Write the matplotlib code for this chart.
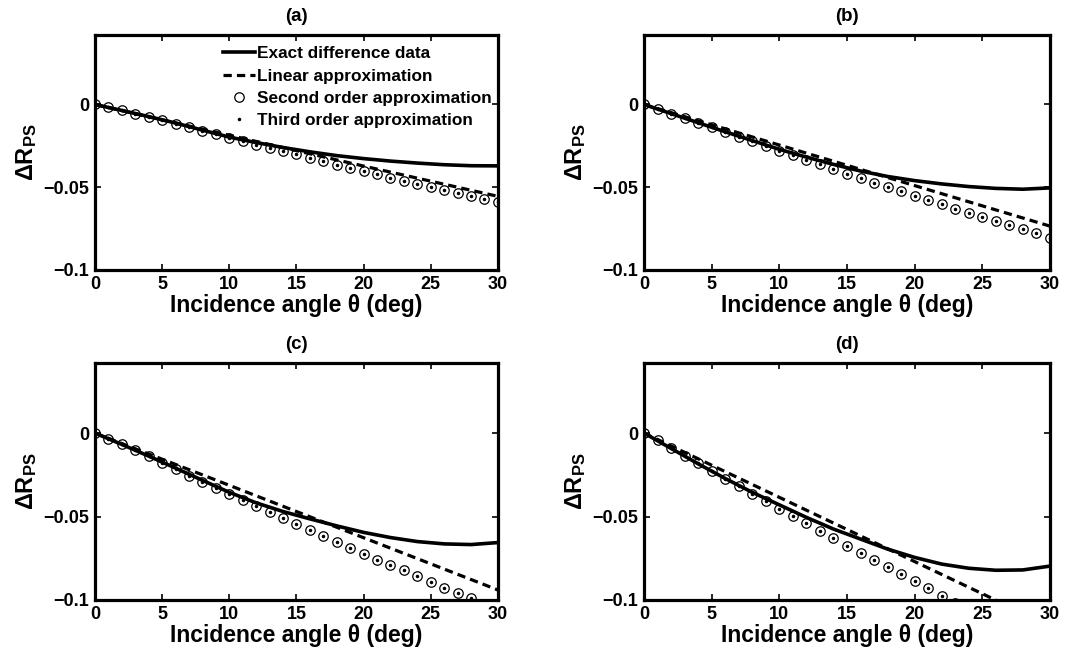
import numpy as np
import matplotlib
matplotlib.use('Agg')
import matplotlib.pyplot as plt

plt.rcParams['font.family'] = ['Liberation Sans', 'DejaVu Sans']
plt.rcParams['font.weight'] = 'bold'
plt.rcParams['mathtext.fontset'] = 'custom'
plt.rcParams['mathtext.rm'] = 'Liberation Sans:bold'
plt.rcParams['mathtext.it'] = 'Liberation Sans:bold'
plt.rcParams['mathtext.bf'] = 'Liberation Sans:bold'

# angles (deg)
theta_exact = [0, 2, 4, 6, 8, 10, 12, 14, 16, 18, 20, 22, 24, 26, 28, 30]
theta_lin = [0, 10, 20, 30]
theta_pts = list(range(31))

# exact difference data
exact_a = [0, -0.0036, -0.0073, -0.0112, -0.0155, -0.0197, -0.0230, -0.0260,
           -0.0286, -0.0309, -0.0327, -0.0342, -0.0354, -0.0364, -0.0370, -0.0371]
exact_b = [0, -0.0055, -0.0110, -0.0165, -0.0218, -0.0271, -0.0318, -0.0362,
           -0.0402, -0.0435, -0.0460, -0.0480, -0.0496, -0.0507, -0.0512, -0.0504]
exact_c = [0, -0.0068, -0.0138, -0.0210, -0.0283, -0.0355, -0.0418, -0.0470,
           -0.0514, -0.0556, -0.0595, -0.0626, -0.0650, -0.0664, -0.0668, -0.0656]
exact_d = [0, -0.0092, -0.0184, -0.0272, -0.0355, -0.0430, -0.0505, -0.0575,
           -0.0635, -0.0695, -0.0745, -0.0785, -0.0810, -0.0822, -0.0820, -0.0797]

# linear approximation
lin_a = [0, -0.0186, -0.0372, -0.0555]
lin_b = [0, -0.0245, -0.0490, -0.0735]
lin_c = [0, -0.0313, -0.0627, -0.0940]
lin_d = [0, -0.0385, -0.0770, -0.1155]

# second order approximation
second_a = [0, -0.0016, -0.0036, -0.0056, -0.0076, -0.0096, -0.0118, -0.0138,
            -0.0160, -0.0180, -0.0200, -0.0222, -0.0242, -0.0262, -0.0282, -0.0302,
            -0.0322, -0.0342, -0.0363, -0.0383, -0.0403, -0.0423, -0.0443, -0.0462,
            -0.0480, -0.0498, -0.0516, -0.0534, -0.0552, -0.0570, -0.0588]
second_b = [0, -0.0030, -0.0056, -0.0082, -0.0110, -0.0139, -0.0167, -0.0195,
            -0.0223, -0.0251, -0.0279, -0.0307, -0.0335, -0.0361, -0.0390, -0.0418,
            -0.0444, -0.0472, -0.0498, -0.0524, -0.0550, -0.0576, -0.0602, -0.0629,
            -0.0653, -0.0679, -0.0703, -0.0729, -0.0755, -0.0779, -0.0805]
second_c = [0, -0.0036, -0.0066, -0.0100, -0.0140, -0.0180, -0.0217, -0.0257,
            -0.0293, -0.0327, -0.0363, -0.0402, -0.0438, -0.0474, -0.0508, -0.0544,
            -0.0582, -0.0616, -0.0650, -0.0687, -0.0723, -0.0759, -0.0791, -0.0823,
            -0.0855, -0.0892, -0.0926, -0.0960, -0.0990, -0.1025, -0.1060]
second_d = [0, -0.0040, -0.0090, -0.0136, -0.0180, -0.0226, -0.0274, -0.0320,
            -0.0364, -0.0408, -0.0452, -0.0496, -0.0540, -0.0584, -0.0630, -0.0674,
            -0.0716, -0.0760, -0.0802, -0.0846, -0.0886, -0.0930, -0.0974, -0.1016,
            -0.1060, -0.1100, -0.1145, -0.1190, -0.1230, -0.1275, -0.1320]

# third order approximation (dots sit at the circle centres)
third_a = list(second_a)
third_b = list(second_b)
third_c = list(second_c)
third_d = list(second_d)

panels = [
    ('(a)', exact_a, lin_a, second_a, third_a),
    ('(b)', exact_b, lin_b, second_b, third_b),
    ('(c)', exact_c, lin_c, second_c, third_c),
    ('(d)', exact_d, lin_d, second_d, third_d),
]
positions = [
    [0.0881, 0.5872, 0.3738, 0.3593],
    [0.5974, 0.5872, 0.3766, 0.3593],
    [0.0881, 0.0826, 0.3738, 0.3624],
    [0.5974, 0.0826, 0.3766, 0.3624],
]

fig = plt.figure(figsize=(10.78, 6.54), dpi=100)

for (title, ex, lin, sec, thi), pos in zip(panels, positions):
    ax = fig.add_axes(pos)
    ax.plot(theta_exact, ex, '-', color='black', lw=2.6,
            label='Exact difference data')
    ax.plot(theta_lin, lin, '--', color='black', lw=2.3, dashes=(2.6, 1.6),
            label='Linear approximation')
    ax.plot(theta_pts, sec, 'o', mfc='none', mec='black', ms=6.8, mew=0.9,
            label='Second order approximation')
    ax.plot(theta_pts, thi, '.', color='black', ms=3,
            label='Third order approximation')
    ax.set_xlim(0, 30)
    ax.set_ylim(-0.1, 0.042)
    ax.set_xticks([0, 5, 10, 15, 20, 25, 30])
    ax.set_yticks([-0.1, -0.05, 0])
    ax.set_yticklabels(['\u22120.1', '\u22120.05', '0'])
    ax.tick_params(direction='in', top=True, right=True, length=4, width=1.2,
                   labelsize=13, pad=4)
    for lab in ax.get_xticklabels() + ax.get_yticklabels():
        lab.set_fontweight('bold')
    for s in ax.spines.values():
        s.set_linewidth(2.3)
    ax.set_title(title, fontsize=13.5, fontweight='bold', pad=10)
    ax.set_xlabel('Incidence angle \u03b8 (deg)', fontsize=16.5,
                  fontweight='bold', labelpad=1)
    ax.set_ylabel(r'$\Delta R_{PS}$', fontsize=17, labelpad=3)
    if title == '(a)':
        ax.legend(loc='upper right', bbox_to_anchor=(1.013, 1.0), frameon=False,
                  handlelength=1.85, handletextpad=0.15, labelspacing=0.42,
                  borderaxespad=0.45, borderpad=0.2,
                  prop={'weight': 'bold', 'size': 12.4})

fig.savefig('out.png', dpi=100)
